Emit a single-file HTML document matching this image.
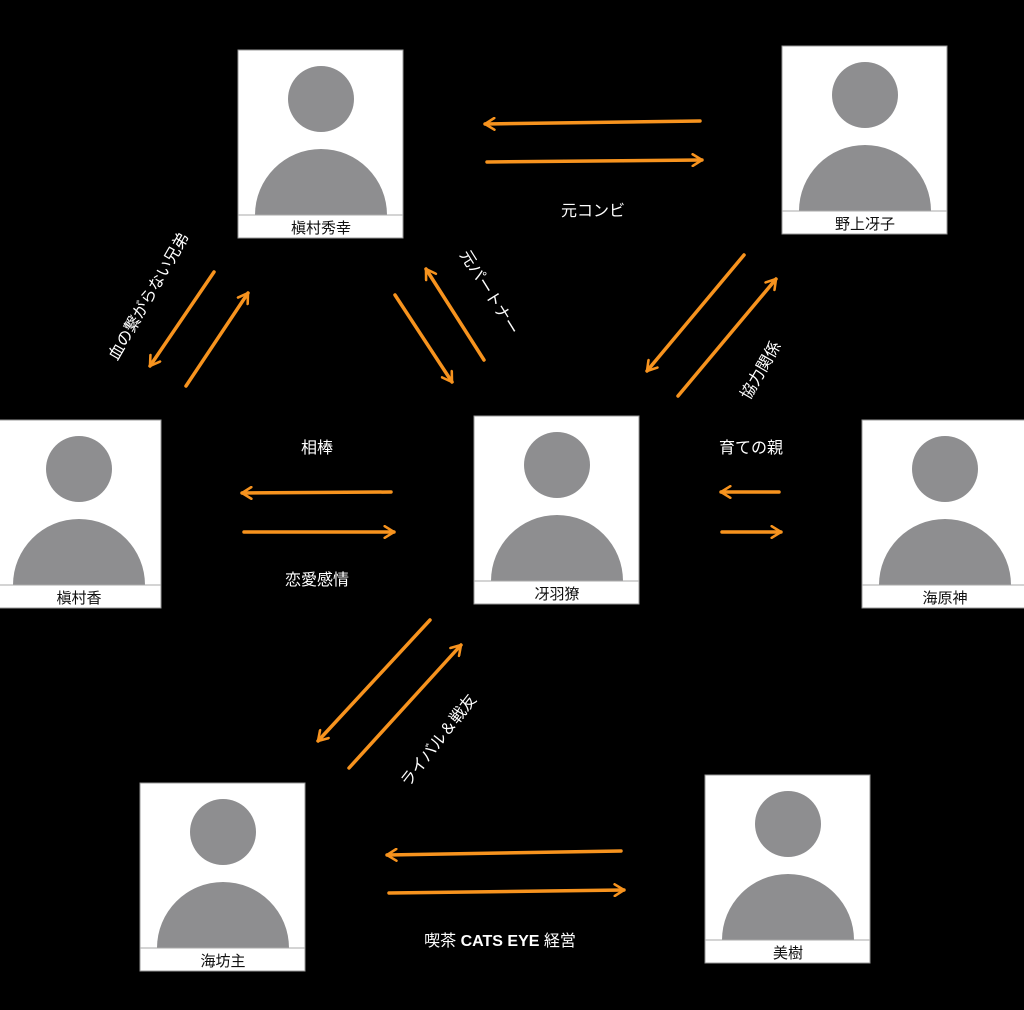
<!DOCTYPE html>
<html><head><meta charset="utf-8"><style>
html,body{margin:0;padding:0;background:#000;width:1024px;height:1010px;overflow:hidden}
svg{display:block}
text{font-family:"Liberation Sans","Noto Sans CJK JP",sans-serif}
</style></head><body>
<svg width="1024" height="1010" viewBox="0 0 1024 1010" xmlns="http://www.w3.org/2000/svg">
<defs>
<marker id="a" viewBox="0 0 12 12" refX="10" refY="6" markerWidth="4" markerHeight="4" orient="auto" markerUnits="strokeWidth">
<polyline points="2,1 10,6 2,11" fill="none" stroke="#f7931e" stroke-width="2.2" stroke-linecap="round" stroke-linejoin="round"/>
</marker>
<g id="card">
<rect x="0" y="0" width="165" height="188" fill="#fff" stroke="#999" stroke-width="1"/>
<circle cx="83" cy="49" r="33" fill="#8e8e90"/>
<path d="M17,165 A66,66 0 0 1 149,165 Z" fill="#8e8e90"/>
<line x1="0" y1="165" x2="165" y2="165" stroke="#aaa" stroke-width="1"/>
</g>
</defs>
<rect width="1024" height="1010" fill="#000"/>

<g font-size="15" fill="#111" text-anchor="middle">
<use href="#card" x="238" y="50"/><text x="321" y="233">槇村秀幸</text>
<use href="#card" x="782" y="46"/><text x="865" y="229">野上冴子</text>
<use href="#card" x="-4" y="420"/><text x="79" y="603">槇村香</text>
<use href="#card" x="474" y="416"/><text x="557" y="599">冴羽獠</text>
<use href="#card" x="862" y="420"/><text x="945" y="603">海原神</text>
<use href="#card" x="140" y="783"/><text x="223" y="966">海坊主</text>
<use href="#card" x="705" y="775"/><text x="788" y="958">美樹</text>
</g>

<g stroke="#f7931e" stroke-width="3.5" stroke-linecap="round" fill="none" marker-end="url(#a)">
<line x1="700" y1="121" x2="485" y2="124"/>
<line x1="487" y1="162" x2="702" y2="160"/>
<line x1="214" y1="272" x2="150" y2="366"/>
<line x1="186" y1="386" x2="248" y2="293"/>
<line x1="395" y1="295" x2="452" y2="382"/>
<line x1="484" y1="360" x2="426" y2="269"/>
<line x1="744" y1="255" x2="647" y2="371"/>
<line x1="678" y1="396" x2="776" y2="279"/>
<line x1="391" y1="492" x2="242" y2="493"/>
<line x1="244" y1="532" x2="394" y2="532"/>
<line x1="779" y1="492" x2="721" y2="492"/>
<line x1="722" y1="532" x2="781" y2="532"/>
<line x1="430" y1="620" x2="318" y2="741"/>
<line x1="349" y1="768" x2="461" y2="645"/>
<line x1="621" y1="851" x2="387" y2="855"/>
<line x1="389" y1="893" x2="624" y2="890"/>
</g>

<g font-size="16" fill="#fff" text-anchor="middle">
<text x="593" y="216">元コンビ</text>
<text x="317" y="453">相棒</text>
<text x="317" y="585">恋愛感情</text>
<text x="751" y="453">育ての親</text>
<text x="500" y="946">喫茶 <tspan font-weight="bold">CATS EYE</tspan> 経営</text>
<text transform="translate(490,292) rotate(58)" x="0" y="6">元パートナー</text>
<text transform="translate(148,296) rotate(-60)" x="0" y="6">血の繋がらない兄弟</text>
<text transform="translate(760,370) rotate(-60)" x="0" y="6">協力関係</text>
<text transform="translate(438,740) rotate(-52)" x="0" y="6">ライバル＆戦友</text>
</g>
</svg>
</body></html>
